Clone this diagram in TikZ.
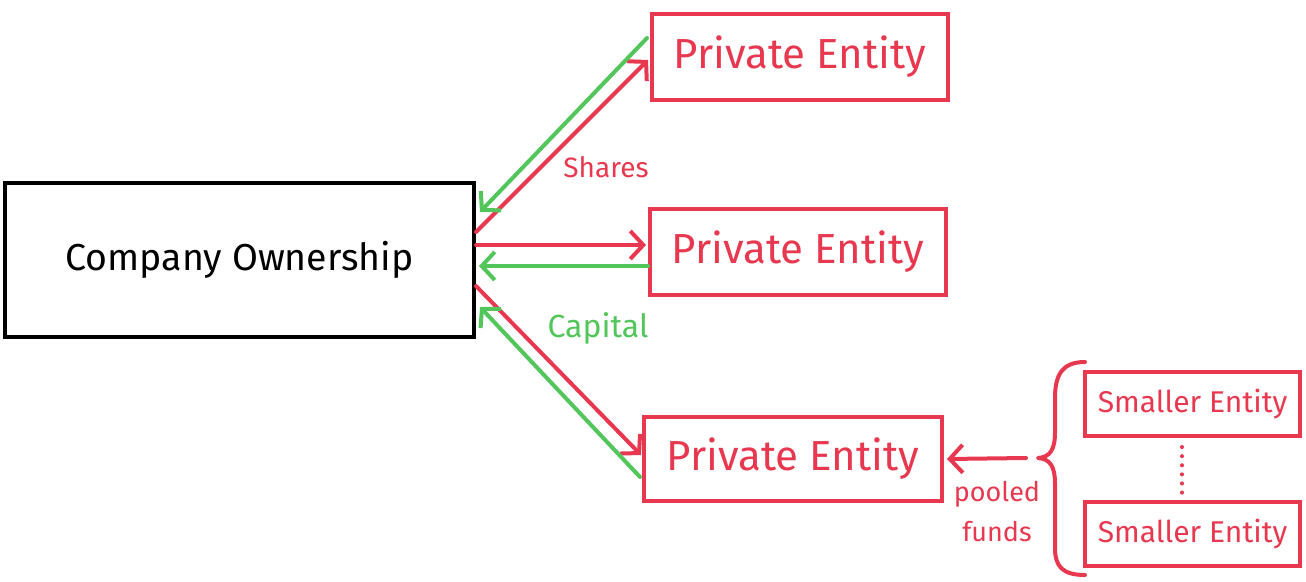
\documentclass[tikz,border=0pt]{standalone}
\usepackage{fontspec}
\setmainfont{Fira Sans}
\usetikzlibrary{arrows.meta}
\definecolor{hred}{HTML}{E8384F}
\definecolor{hgreen}{HTML}{52C65A}
\tikzset{
  box/.style={draw, line width=4pt, rectangle, inner sep=0pt, anchor=center},
  pebox/.style={box, draw=hred, text=hred, font=\fontsize{42}{46}\selectfont, minimum width=296pt, minimum height=86pt},
  sebox/.style={box, draw=hred, text=hred, font=\fontsize{30}{34}\selectfont, minimum width=215pt, minimum height=64pt},
  arr/.style={line width=4pt, line cap=round, -{Straight Barb[length=13pt,width=28pt,line width=4pt]}},
  redarr/.style={arr, draw=hred},
  greenarr/.style={arr, draw=hgreen},
  lab/.style={inner sep=0pt}
}
\begin{document}
\begin{tikzpicture}[x=1pt,y=-1pt]
\useasboundingbox (0,0) rectangle (1306,581);
\node[box, draw=black, font=\fontsize{37.5}{42}\selectfont, minimum width=469pt, minimum height=154pt] (comp) at (239.5,260) {Company Ownership};
\node[pebox] (pe1) at (800,57) {Private Entity};
\node[pebox] (pe2) at (798,252) {Private Entity};
\node[pebox, minimum width=298pt, minimum height=84pt] (pe3) at (793,459) {Private Entity};
\node[sebox] (se1) at (1192.5,404) {Smaller Entity};
\node[sebox] (se2) at (1192.5,534) {Smaller Entity};
% arrows
\draw[redarr] ([yshift=28pt]comp.east) -- ([yshift=-3pt,xshift=-2pt]pe1.west);
\draw[greenarr] ([yshift=19pt,xshift=-3pt]pe1.west) -- ([yshift=48pt,xshift=4pt]comp.east);
\draw[redarr] ([yshift=15pt]comp.east) -- ([yshift=7pt,xshift=-2pt]pe2.west);
\draw[greenarr] ([yshift=-14pt]pe2.west) -- ([yshift=-6pt,xshift=3pt]comp.east);
\draw[redarr] ([yshift=-26pt]comp.east) -- ([yshift=4pt,xshift=-1pt]pe3.west);
\draw[greenarr] ([yshift=-18pt,xshift=-2pt]pe3.west) -- ([yshift=-47pt,xshift=4pt]comp.east);
% labels
\node[lab, text=hred, font=\fontsize{28}{32}\selectfont] (shares) at (606,167) {Shares};
\node[lab, text=hgreen, font=\fontsize{32}{36}\selectfont] (capital) at (598,328) {Capital};
\node[lab, text=hred, align=center, font=\fontsize{27}{40}\selectfont] (pooled) at (997,512) {pooled\\funds};
% brace
\draw[hred, line width=4pt, line cap=round, line join=round]
  (1085,362) .. controls (1062,362) and (1055,375) .. (1055,398) -- (1055,432)
  .. controls (1055,450) and (1050,457) .. (1038,458)
  .. controls (1050,459) and (1055,466) .. (1055,484) -- (1055,548)
  .. controls (1055,566) and (1062,575) .. (1085,575);
\coordinate (bt) at (1026,458);
\draw[redarr] (bt) -- ([xshift=3pt]pe3.east);
% dots
\coordinate (d1) at (1182,447);
\coordinate (d2) at (1182,494);
\draw[hred, line width=4pt, line cap=round, dash pattern=on 0.1pt off 9pt] (d1) -- (d2);
\end{tikzpicture}
\end{document}
